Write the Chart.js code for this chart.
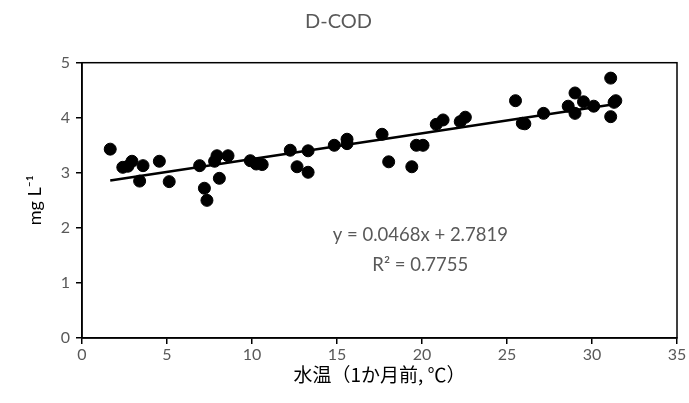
<!DOCTYPE html>
<html lang="ja">
  <head>
    <meta charset="UTF-8" />
    <title>D-COD</title>
    <style>
      html, body { margin: 0; padding: 0; background: #fff; }
      .chartBox { width: 689px; height: 403px; }
    </style>
  </head>
  <body>
    <div class="chartBox">
      <canvas id="myChart" width="689" height="403"></canvas>
    </div>
    <script src="https://cdn.jsdelivr.net/npm/chart.js"></script>
    <script>
      // 水温（1か月前）と D-COD
      const waterTemp = [
        1.66, 2.4, 2.7, 2.94, 3.59, 3.39, 4.55, 5.13, 6.92, 7.2, 7.35, 7.8,
        7.94, 8.08, 8.59, 9.9, 10.25, 10.6, 12.25, 12.65, 13.3, 13.3, 14.84,
        15.59, 15.59, 17.65, 18.04, 19.4, 19.67, 20.06, 20.84, 21.24, 22.25,
        22.55, 25.5, 25.9, 26.05, 27.15, 28.6, 29.0, 29.0, 29.5, 30.1, 31.1,
        31.3, 31.4, 31.1,
      ];
      const dCod = [
        3.43, 3.1, 3.12, 3.21, 3.13, 2.85, 3.21, 2.84, 3.13, 2.72, 2.5, 3.21,
        3.31, 2.9, 3.31, 3.22, 3.16, 3.15, 3.41, 3.11, 3.4, 3.01, 3.5, 3.61,
        3.53, 3.7, 3.2, 3.11, 3.5, 3.5, 3.88, 3.96, 3.93, 4.01, 4.31, 3.9,
        3.89, 4.08, 4.21, 4.45, 4.08, 4.29, 4.21, 4.72, 4.28, 4.31, 4.02,
      ];
      const xTicks = [0, 5, 10, 15, 20, 25, 30, 35];
      const yTicks = [0, 1, 2, 3, 4, 5];
      const slope = 0.0468;
      const intercept = 2.7819;
      const rSquared = 0.7755;

      const grey = "#595959";
      const fontFamily = "Lato, 'Open Sans', sans-serif";

      const points = waterTemp.map((x, i) => ({ x: x, y: dCod[i] }));
      const xMin = Math.min(...waterTemp);
      const xMax = Math.max(...waterTemp);
      const trend = [
        { x: xMin, y: slope * xMin + intercept },
        { x: xMax, y: slope * xMax + intercept },
      ];

      // 枠線と近似式
      const boxAndLabel = {
        id: "boxAndLabel",
        afterDatasetsDraw(chart) {
          const { ctx, chartArea, scales } = chart;
          ctx.save();
          ctx.strokeStyle = "#000";
          ctx.lineWidth = 1.5;
          ctx.strokeRect(
            chartArea.left,
            chartArea.top,
            chartArea.right - chartArea.left,
            chartArea.bottom - chartArea.top
          );
          ctx.fillStyle = grey;
          ctx.font = "18.5px " + fontFamily;
          ctx.textAlign = "center";
          ctx.textBaseline = "middle";
          const cx = scales.x.getPixelForValue(19.9);
          ctx.fillText(
            `y = ${slope}x + ${intercept}`,
            cx,
            scales.y.getPixelForValue(1.87)
          );
          ctx.fillText(`R² = ${rSquared}`, cx, scales.y.getPixelForValue(1.32));
          ctx.restore();
        },
      };

      const ctx = document.getElementById("myChart").getContext("2d");
      const myChart = new Chart(ctx, {
        type: "scatter",
        data: {
          datasets: [
            {
              label: "D-COD",
              data: points,
              backgroundColor: "#000",
              borderColor: "#000",
              pointRadius: 6,
              pointHoverRadius: 6,
            },
            {
              type: "line",
              label: "trend",
              data: trend,
              borderColor: "#000",
              borderWidth: 2.5,
              pointRadius: 0,
              fill: false,
            },
          ],
        },
        options: {
          responsive: false,
          animation: false,
          layout: { padding: { left: 0, right: 12, top: 0, bottom: 0 } },
          plugins: {
            legend: { display: false },
            tooltip: { enabled: false },
            title: {
              display: true,
              text: "D-COD",
              color: grey,
              font: { family: fontFamily, size: 20, weight: "normal" },
              padding: { top: 10, bottom: 28.7 },
            },
          },
          scales: {
            x: {
              type: "linear",
              min: 0,
              max: 35,
              afterBuildTicks(scale) {
                scale.ticks = xTicks.map((v) => ({ value: v }));
              },
              afterFit(scale) {
                scale.height = 65;
              },
              grid: {
                drawOnChartArea: false,
                color: "#000",
                tickLength: 6,
                lineWidth: 1.5,
              },
              border: { display: true, color: "#000", width: 1.5 },
              ticks: {
                color: grey,
                font: { family: fontFamily, size: 16 },
                padding: 1,
                maxRotation: 0,
              },
              title: {
                display: true,
                text: "水温（1か月前, ℃）",
                color: "#000",
                font: { family: "'Noto Sans CJK JP', sans-serif", size: 19 },
                padding: { top: 0, bottom: 17 },
              },
            },
            y: {
              type: "linear",
              min: 0,
              max: 5,
              afterBuildTicks(scale) {
                scale.ticks = yTicks.map((v) => ({ value: v }));
              },
              afterFit(scale) {
                scale.width = 82;
              },
              grid: {
                drawOnChartArea: false,
                color: "#000",
                tickLength: 6,
                lineWidth: 1.5,
              },
              border: { display: true, color: "#000", width: 1.5 },
              ticks: {
                color: grey,
                font: { family: fontFamily, size: 16 },
                padding: 6,
              },
              title: {
                display: true,
                text: "mg L⁻¹",
                color: "#000",
                font: { family: fontFamily, size: 18 },
                padding: { top: 24, bottom: 0 },
              },
            },
          },
        },
        plugins: [boxAndLabel],
      });
    </script>
  </body>
</html>
